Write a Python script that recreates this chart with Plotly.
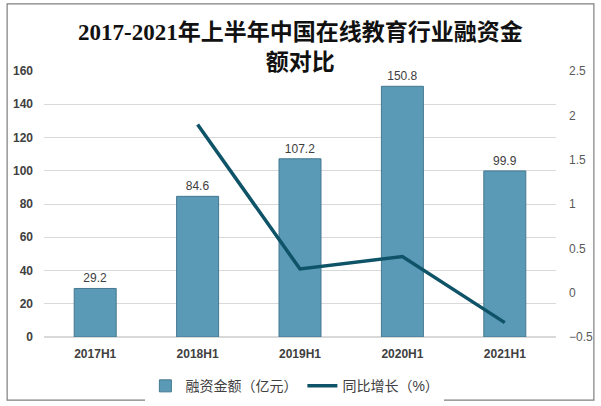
import plotly.graph_objects as go

categories = ["2017H1", "2018H1", "2019H1", "2020H1", "2021H1"]
amounts = [29.2, 84.6, 107.2, 150.8, 99.9]
growth_x = ["2018H1", "2019H1", "2020H1", "2021H1"]
growth = [1.897, 0.267, 0.407, -0.338]
left_ticks = [0, 20, 40, 60, 80, 100, 120, 140, 160]
right_ticks = [-0.5, 0, 0.5, 1, 1.5, 2, 2.5]
title_text = "2017-2021年上半年中国在线教育行业融资金<br>额对比"

fig = go.Figure()
fig.add_trace(go.Bar(
    x=categories, y=amounts, name="融资金额（亿元）",
    marker=dict(color="#5A9AB7", line=dict(color="#45788F", width=1)),
    width=0.41,
    text=[f"{v:.1f}" for v in amounts], textposition="outside",
    textfont=dict(family="Liberation Sans", size=12, color="#404040"),
    cliponaxis=False,
))
fig.add_trace(go.Scatter(
    x=growth_x, y=growth, name="同比增长（%）", yaxis="y2",
    mode="lines", line=dict(color="#0E5367", width=3.5),
))

fig.update_layout(
    width=601, height=406,
    margin=dict(l=44, r=45, t=71, b=69, autoexpand=False),
    paper_bgcolor="white", plot_bgcolor="white",
    font=dict(family="Liberation Sans, Noto Sans CJK SC", size=12, color="#404040"),
    showlegend=True,
    legend=dict(orientation="h", x=0.49, xanchor="center", y=-0.125, yanchor="top",
                font=dict(size=14, color="#404040"), tracegroupgap=0),
    xaxis=dict(
        showline=False, ticks="", showgrid=False, ticklabelstandoff=8,
        tickfont=dict(family="Liberation Sans", size=12, color="#404040", weight="bold"),
    ),
    yaxis=dict(
        range=[0, 160], tickvals=left_ticks, showgrid=True, gridcolor="#D9D9D9",
        gridwidth=1, zeroline=True, zerolinecolor="#D9D9D9", showline=False, ticks="",
        tickfont=dict(family="Liberation Sans", size=12, color="#404040", weight="bold"),
        ticklabelstandoff=10,
    ),
    yaxis2=dict(
        range=[-0.5, 2.5], tickvals=right_ticks, overlaying="y", side="right",
        showgrid=False, zeroline=False, showline=False, ticks="",
        tickfont=dict(family="Liberation Sans", size=12, color="#595959"),
        ticklabelstandoff=12,
    ),
    annotations=[dict(
        text="<b>" + title_text + "</b>", xref="paper", yref="paper",
        x=0.5, y=1.092, xanchor="center", yanchor="middle", showarrow=False,
        font=dict(family="Liberation Serif, Noto Sans CJK SC", size=23, color="#111111"),
    )],
    shapes=[dict(type="rect", xref="paper", yref="paper",
                 x0=-0.072, x1=1.074, y0=-0.237, y1=1.252,
                 line=dict(color="#7F7F7F", width=1.2), fillcolor="rgba(0,0,0,0)", layer="below")],
)

fig.write_html("out.html")
